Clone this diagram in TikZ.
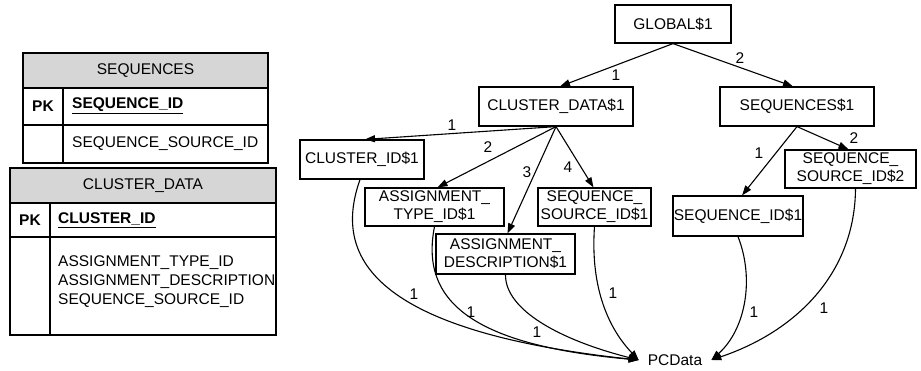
\documentclass[tikz,border=0pt]{standalone}
\usepackage{fontspec}
\setmainfont{Liberation Sans}
\usetikzlibrary{arrows.meta,calc}
\begin{document}
\begin{tikzpicture}[x=1pt,y=-1pt,
  every node/.style={font=\fontsize{15.5}{18}\selectfont},
  tbox/.style={draw,line width=1.2pt,inner sep=0pt,align=center},
  edge/.style={line width=1.1pt,-{Triangle[length=10pt,width=7pt]}},
  lbl/.style={inner sep=0pt},
  tline/.style={line width=1.2pt},
  txt/.style={inner sep=0pt,anchor=west}]
\useasboundingbox (0,0) rectangle (921,371);
% ---- SEQUENCES table
\fill[gray!32] (23,53) rectangle (268,88);
\draw[tline] (23,53) rectangle (268,163);
\draw[tline] (23,88) -- (268,88);
\draw[tline] (23,125) -- (268,125);
\draw[tline] (63,88) -- (63,163);
\node[lbl] (t1h) at (145.5,70.5) {SEQUENCES};
\node[lbl] (t1pk) at (43,106) {\bfseries PK};
\node[txt] (t1k) at (72,106) {\bfseries\underline{SEQUENCE\_ID}};
\node[txt] (t1a) at (72,144) {SEQUENCE\_SOURCE\_ID};
% ---- CLUSTER_DATA table
\fill[gray!32] (10,168) rectangle (276,203);
\draw[tline] (10,168) rectangle (276,335);
\draw[tline] (10,203) -- (276,203);
\draw[tline] (10,237) -- (276,237);
\draw[tline] (50,203) -- (50,335);
\node[lbl] (t2h) at (143,185.5) {CLUSTER\_DATA};
\node[lbl] (t2pk) at (30,220) {\bfseries PK};
\node[txt] (t2k) at (58,220) {\bfseries\underline{CLUSTER\_ID}};
\node[txt] (t2a) at (58,263) {ASSIGNMENT\_TYPE\_ID};
\node[txt] (t2b) at (58,282) {ASSIGNMENT\_DESCRIPTION};
\node[txt] (t2c) at (58,301) {SEQUENCE\_SOURCE\_ID};
% ---- tree
\node[tbox,minimum width=116pt,minimum height=38pt] (g) at (673,24) {GLOBAL\$1};
\node[tbox,minimum width=154pt,minimum height=39pt] (cd) at (556,106.5) {CLUSTER\_DATA\$1};
\node[tbox,minimum width=154pt,minimum height=39pt] (sq) at (797,106.5) {SEQUENCES\$1};
\node[tbox,minimum width=124pt,minimum height=39pt] (cid) at (362,159.5) {CLUSTER\_ID\$1};
\node[tbox,minimum width=139pt,minimum height=38pt] (at) at (434.5,207) {ASSIGNMENT\_\\TYPE\_ID\$1};
\node[tbox,minimum width=139pt,minimum height=40pt] (ad) at (505.5,254) {ASSIGNMENT\_\\DESCRIPTION\$1};
\node[tbox,minimum width=113pt,minimum height=38pt] (ss1) at (594.5,207) {SEQUENCE\_\\SOURCE\_ID\$1};
\node[tbox,minimum width=130pt,minimum height=40pt] (sid) at (738,216) {SEQUENCE\_ID\$1};
\node[tbox,minimum width=131pt,minimum height=38pt] (ss2) at (850.5,169) {SEQUENCE\_\\SOURCE\_ID\$2};
\node[inner xsep=9pt,inner ysep=2pt] (pc) at (675,360) {PCData};
% straight edges
\draw[edge] (g.south) -- ([xshift=4pt]cd.north);
\draw[edge] (g.south) -- ([xshift=-4pt]sq.north);
\draw[edge] (cd.south) -- ([xshift=3pt]cid.north);
\draw[edge] (cd.south) -- ([xshift=3pt]at.north);
\draw[edge] (cd.south) -- ([xshift=2pt]ad.north);
\draw[edge] (cd.south) -- ([xshift=-1pt]ss1.north);
\draw[edge] (sq.south) -- ([xshift=4pt]sid.north);
\draw[edge] (sq.south) -- ([xshift=-2pt]ss2.north);
\node[lbl] (l1) at (616,75) {1};
\node[lbl] (l2) at (740,58) {2};
\node[lbl] (l3) at (452,125) {1};
\node[lbl] (l4) at (488,147) {2};
\node[lbl] (l5) at (527,172) {3};
\node[lbl] (l6) at (568,167) {4};
\node[lbl] (l7) at (759,153) {1};
\node[lbl] (l8) at (854,138) {2};
% curved edges to PCData
\draw[edge] ([xshift=-2pt]cid.south) .. controls (335,250) and (360,330) .. (pc.west);
\draw[edge] (at.south) .. controls (420,300) and (470,345) .. (pc.west);
\draw[edge] (ad.south) .. controls (505,310) and (560,340) .. (pc.west);
\draw[edge] (ss1.south) .. controls (590,290) and (610,330) .. (pc.west);
\draw[edge] (sid.south) .. controls (755,280) and (745,330) .. (pc.east);
\draw[edge] ([xshift=5pt]ss2.south) .. controls (855,270) and (800,330) .. (pc.east);
\node[lbl] (c1) at (414,294) {1};
\node[lbl] (c2) at (471,312) {1};
\node[lbl] (c3) at (537,332) {1};
\node[lbl] (c4) at (613,293) {1};
\node[lbl] (c5) at (754,312) {1};
\node[lbl] (c6) at (824,308) {1};
\end{tikzpicture}
\end{document}
